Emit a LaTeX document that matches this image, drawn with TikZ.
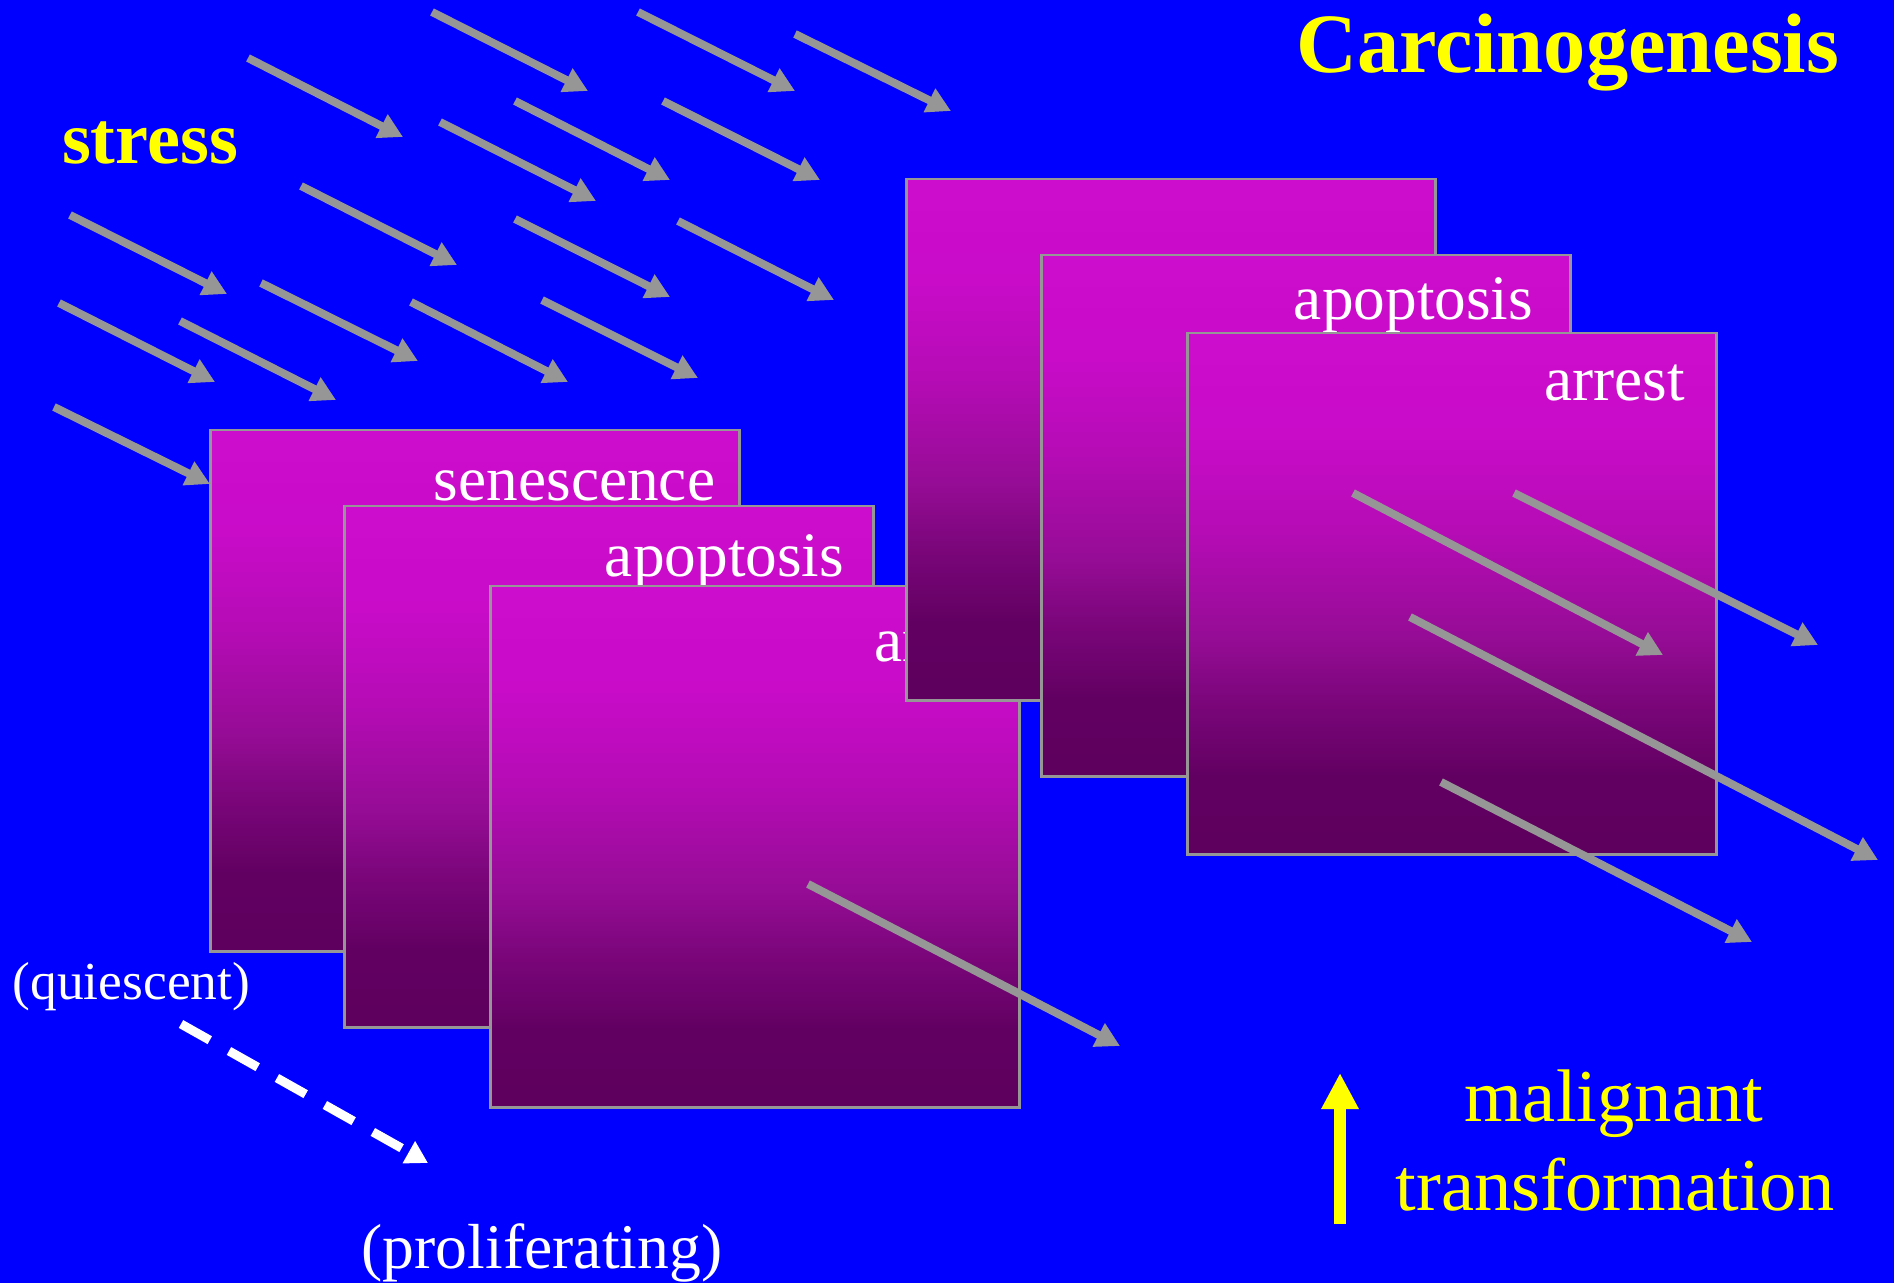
\documentclass[tikz,border=0pt]{standalone}
\usepackage{fontspec}
\setmainfont{Liberation Serif}
\usetikzlibrary{arrows.meta,calc}
\definecolor{bgblue}{RGB}{0,0,255}
\definecolor{cardtop}{RGB}{205,13,205}
\definecolor{cardhigh}{RGB}{200,12,200}
\definecolor{cardupper}{RGB}{180,12,180}
\definecolor{cardmid}{RGB}{150,12,150}
\definecolor{cardlow}{RGB}{124,6,124}
\definecolor{cardbase}{RGB}{98,0,98}
\definecolor{cardbot}{RGB}{94,0,94}
\definecolor{cardline}{RGB}{150,150,150}
\definecolor{stressgray}{RGB}{150,150,150}
\definecolor{signyellow}{RGB}{255,255,0}
\pgfdeclareverticalshading{cardshade}{100bp}{color(0bp)=(cardbot); color(26.5bp)=(cardbot);
  color(32.5bp)=(cardbase); color(40bp)=(cardlow); color(46bp)=(cardmid);
  color(55.5bp)=(cardupper); color(65bp)=(cardhigh); color(75bp)=(cardtop); color(100bp)=(cardtop)}
\tikzset{
  card/.style={draw=cardline, line width=0.025cm, shading=cardshade, minimum width=5.29cm, minimum height=5.21cm, inner sep=0, anchor=north west},
  cardlabel/.style={text=white, inner sep=0, anchor=base east, font=\fontsize{18}{20}\selectfont},
  stressarrow/.style={draw=stressgray, line width=0.08cm, -{Triangle[length=0.24cm,width=0.25cm]}},
  yellowtext/.style={text=signyellow, inner sep=0, anchor=base},
  whitetext/.style={text=white, inner sep=0, anchor=base west}
}
\begin{document}
\begin{tikzpicture}[x=0.01cm, y=-0.01cm]
   \useasboundingbox (0,0) rectangle (1894,1283);
   \fill[bgblue] (0,0) rectangle (1894,1283);

   \foreach \xa/\ya/\xb/\yb in
     {432/12/588/91, 638/12/795/91, 795/34/951/111,
      248/58/403/137, 515/101/670/180, 663/101/820/180,
      440/122/596/201, 301/186/457/265, 70/215/227/294,
      515/219/670/297, 678/221/834/300, 261/283/418/361,
      59/303/215/382, 180/321/336/400, 411/302/568/382,
      542/300/698/378, 54/407/210/484}
     \draw[stressarrow] (\xa,\ya) -- (\xb,\yb);

   \foreach \nm/\x/\y/\lab/\gap/\drop in
     {left1/209/429/senescence/25/72,
      left2/343/505/apoptosis/30/72,
      left3/489/585/arrest/5/77}
   {
     \node[card] (\nm) at (\x,\y) {};
     \node[cardlabel] (\nm-label) at ($(\nm.north east)+(-\gap,\drop)$) {\lab};
   }
   \node[card] (right1) at (905,178) {};
   \foreach \nm/\x/\y/\lab/\gap/\drop in
     {right2/1040/254/apoptosis/38/66,
      right3/1186/332/arrest/32/69}
   {
     \node[card] (\nm) at (\x,\y) {};
     \node[cardlabel] (\nm-label) at ($(\nm.north east)+(-\gap,\drop)$) {\lab};
   }

   \foreach \xa/\ya/\xb/\yb in
     {808/884/1120/1046, 1353/493/1663/655, 1514/493/1818/645,
      1410/617/1878/860, 1441/782/1752/942}
     \draw[stressarrow] (\xa,\ya) -- (\xb,\yb);

   \node[yellowtext, font=\fontsize{24}{28}\selectfont\bfseries] (title) at (1568,73) {Carcinogenesis};
   \node[yellowtext, font=\fontsize{21.1}{24}\selectfont\bfseries] (stress) at (150,164) {stress};

   \node[whitetext, font=\fontsize{15.2}{18}\selectfont] (quiescent) at (12,999) {(quiescent)};
   \node[whitetext, font=\fontsize{18.1}{20}\selectfont] (proliferating) at (361,1268) {(proliferating)};
   \coordinate (drift-start) at (181,1024);
   \coordinate (drift-end) at (428,1163);
   \draw[white, line width=0.09cm, dash pattern=on 0.33cm off 0.22cm,
         -{Triangle[length=0.22cm,width=0.24cm]}] (drift-start) -- (drift-end);

   \node[yellowtext, font=\fontsize{21.2}{24}\selectfont] (malignant) at (1614,1121) {malignant};
   \node[yellowtext, font=\fontsize{21.2}{24}\selectfont] (transformation) at (1615,1210) {transformation};
   \coordinate (rise-bot) at (1340,1224);
   \coordinate (rise-top) at (1340,1073);
   \draw[signyellow, line width=0.12cm, -{Triangle[length=0.36cm,width=0.35cm]}] (rise-bot) -- (rise-top);
\end{tikzpicture}
\end{document}
